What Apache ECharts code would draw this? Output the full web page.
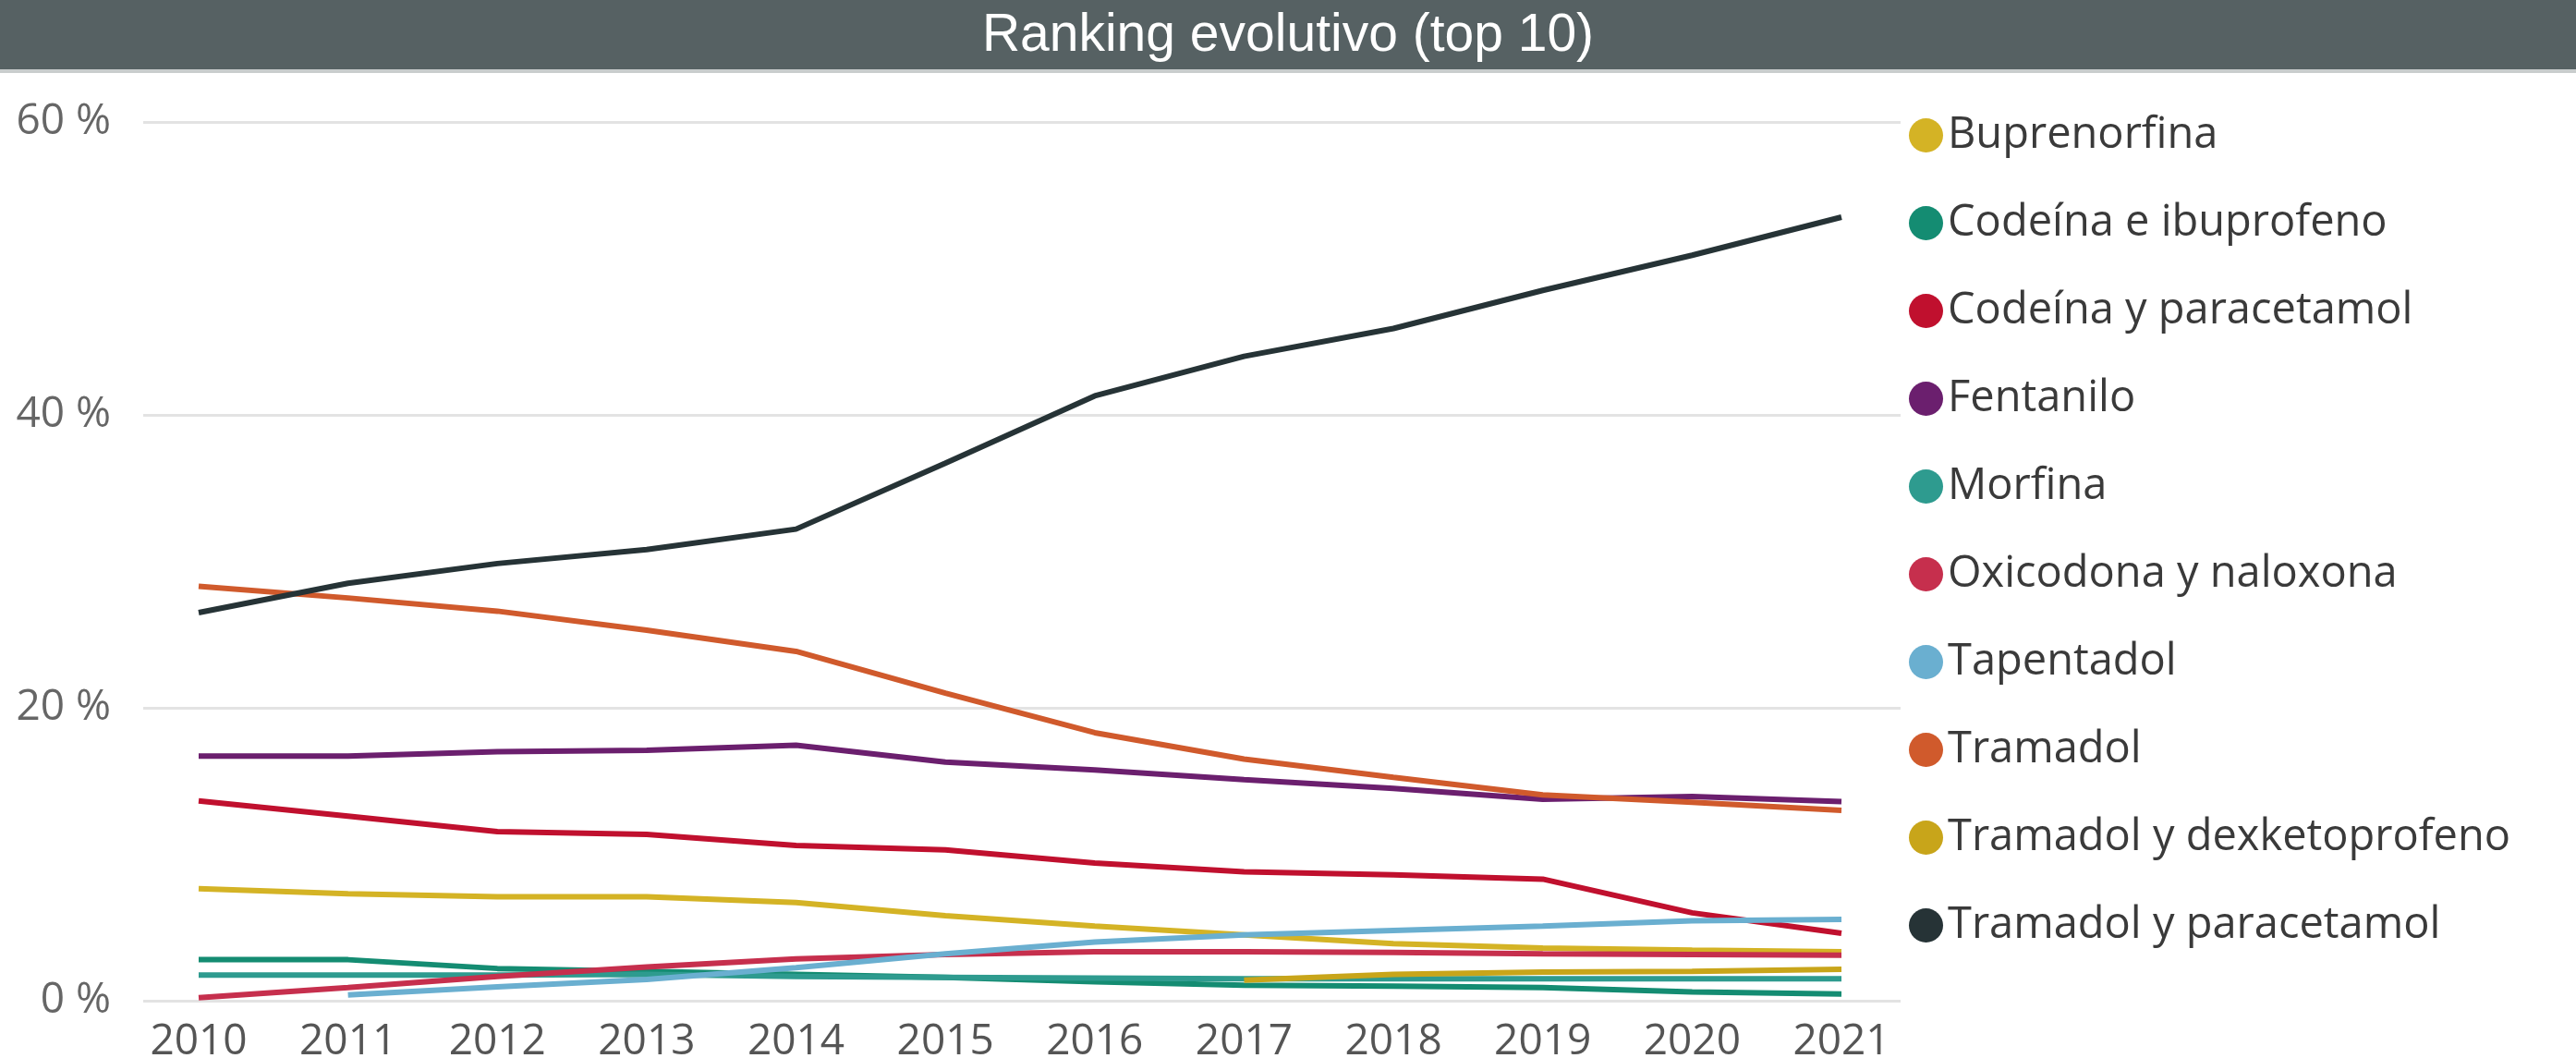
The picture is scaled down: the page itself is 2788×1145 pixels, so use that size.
<!DOCTYPE html>
<html>
<head>
<meta charset="utf-8">
<style>html,body{margin:0;padding:0;background:#fff;}#c{width:2788px;height:1145px;}</style>
<script src="https://cdn.jsdelivr.net/npm/echarts@6/dist/echarts.min.js"></script>
</head>
<body>
<div id="c"></div>
<script>
var years = ['2010','2011','2012','2013','2014','2015','2016','2017','2018','2019','2020','2021'];
var yTicks = [0, 20, 40, 60];
var buprenorfina = [7.65, 7.3, 7.1, 7.1, 6.7, 5.8, 5.1, 4.5, 3.9, 3.6, 3.45, 3.35];
var codeinaIbuprofeno = [2.8, 2.8, 2.2, 2.0, 1.8, 1.6, 1.3, 1.05, 1.0, 0.9, 0.6, 0.45];
var codeinaParacetamol = [13.65, 12.6, 11.55, 11.35, 10.6, 10.3, 9.4, 8.8, 8.6, 8.3, 6.0, 4.6];
var fentanilo = [16.7, 16.7, 17.0, 17.1, 17.45, 16.3, 15.75, 15.1, 14.5, 13.75, 13.95, 13.6];
var morfina = [1.75, 1.75, 1.75, 1.8, 1.65, 1.6, 1.55, 1.5, 1.5, 1.5, 1.5, 1.5];
var oxicodonaNaloxona = [0.2, 0.9, 1.65, 2.3, 2.85, 3.15, 3.35, 3.35, 3.3, 3.2, 3.15, 3.1];
var tapentadol = [null, 0.4, 0.95, 1.45, 2.25, 3.2, 4.0, 4.5, 4.8, 5.1, 5.45, 5.55];
var tramadol = [28.3, 27.5, 26.6, 25.3, 23.85, 21.0, 18.3, 16.5, 15.25, 14.05, 13.55, 13.0];
var tramadolDexketoprofeno = [null, null, null, null, null, null, null, 1.4, 1.8, 1.95, 2.0, 2.15];
var tramadolParacetamol = [26.5, 28.5, 29.85, 30.8, 32.2, 36.7, 41.3, 44.0, 45.9, 48.5, 50.9, 53.5];

var names = ['Buprenorfina','Codeína e ibuprofeno','Codeína y paracetamol','Fentanilo','Morfina','Oxicodona y naloxona','Tapentadol','Tramadol','Tramadol y dexketoprofeno','Tramadol y paracetamol'];
var values = [buprenorfina, codeinaIbuprofeno, codeinaParacetamol, fentanilo, morfina, oxicodonaNaloxona, tapentadol, tramadol, tramadolDexketoprofeno, tramadolParacetamol];
var colors = ['#d4b325','#148c72','#c0102e','#6b1f6e','#2e9b8f','#c62f4d','#6aafd0','#d05a2c','#c8a51a','#263336'];

var chart = echarts.init(document.getElementById('c'));
var series = names.map(function(n, i){
  return {
    name: n, type: 'line', xAxisIndex: 1, yAxisIndex: 1,
    data: values[i], symbol: 'none', showSymbol: false,
    lineStyle: {width: 6, color: colors[i]}, itemStyle: {color: colors[i]},
    connectNulls: false, z: 3
  };
});
chart.setOption({
  animation: false,
  backgroundColor: '#fff',
  graphic: [
    {type: 'rect', left: 0, top: 0, shape: {width: 2788, height: 75}, style: {fill: '#566163'}, z: 0},
    {type: 'rect', left: 0, top: 75, shape: {width: 2788, height: 4}, style: {fill: '#c9cdcd'}, z: 0}
  ],
  title: {
    text: 'Ranking evolutivo (top 10)', left: 'center', top: 6,
    textStyle: {color: '#ffffff', fontSize: 57, fontWeight: 'normal', fontFamily: 'Liberation Sans'}
  },
  legend: {
    orient: 'vertical', left: 2061, top: 118,
    icon: 'circle', itemWidth: 37, itemHeight: 37, itemGap: 48,
    data: names,
    textStyle: {fontSize: 47, lineHeight: 47, color: '#3a3a3a', fontFamily: 'Open Sans'}
  },
  grid: [
    {left: 155, right: 731, top: 132, bottom: 62, containLabel: false, outerBoundsMode: 'none'},
    {left: 215, right: 795, top: 132, bottom: 62, containLabel: false, outerBoundsMode: 'none'}
  ],
  xAxis: [
    {type: 'value', gridIndex: 0, show: false, min: 0, max: 1},
    {type: 'category', gridIndex: 1, data: years, boundaryGap: false,
     axisLine: {show: false}, axisTick: {show: false},
     axisLabel: {fontSize: 46, color: '#555', margin: 22, fontFamily: 'Open Sans', interval: 0}}
  ],
  yAxis: [
    {type: 'value', gridIndex: 0, min: 0, max: 60, interval: 20,
     axisLine: {show: false}, axisTick: {show: false},
     splitLine: {show: true, lineStyle: {color: '#e3e3e3', width: 3}},
     axisLabel: {fontSize: 46, color: '#666', margin: 35, fontFamily: 'Open Sans',
       formatter: function(v){ return yTicks.indexOf(v) >= 0 ? v + ' %' : ''; }}},
    {type: 'value', gridIndex: 1, min: 0, max: 60, interval: 20, show: false,
     splitLine: {show: false}}
  ],
  series: series
});
</script>
</body>
</html>
